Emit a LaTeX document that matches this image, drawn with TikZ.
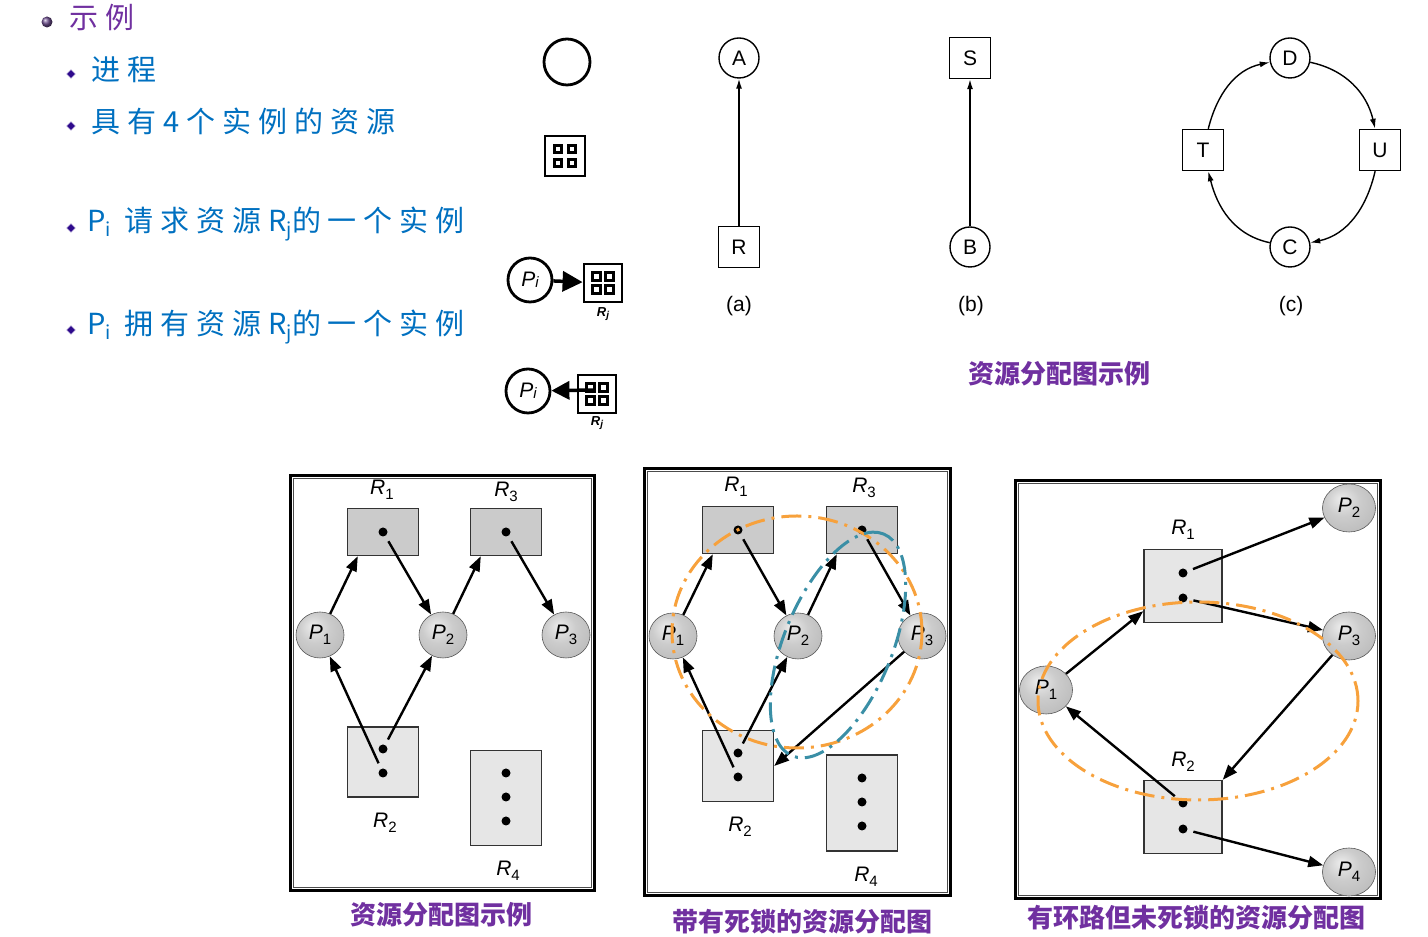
\documentclass[tikz,border=0pt]{standalone}
\usepackage{fontspec}
\usetikzlibrary{arrows.meta,positioning,calc,shapes.geometric}

\newfontfamily\cjk{Noto Sans CJK SC}
\newfontfamily\cjkhand[LetterSpace=24]{Noto Sans CJK SC}
\newfontfamily\helv{Liberation Sans}

\definecolor{titlepurple}{HTML}{7030A0}
\definecolor{itemblue}{HTML}{0070C0}
\definecolor{bulletblue}{HTML}{2E0A8C}
\definecolor{bulletpurple}{HTML}{6B4C8C}
\definecolor{looporange}{HTML}{F7A13C}
\definecolor{loopteal}{HTML}{3A8FA6}
\definecolor{resdark}{HTML}{CBCBCB}
\definecolor{reslight}{HTML}{E6E6E6}

\pgfdeclareradialshading{sphshade}{\pgfpoint{-8bp}{10bp}}{%
  color(0bp)=(gray!15); color(16bp)=(gray!40); color(36bp)=(gray!55);
  color(50bp)=(gray!75); color(60bp)=(gray!90)}

\newcommand{\lbl}[2]{\textit{#1}\raisebox{-0.5ex}{\fontsize{15}{15}\selectfont #2}}
\newcommand{\psub}[2]{#1\raisebox{-0.35ex}{\fontsize{19}{19}\selectfont #2}}

\tikzset{
  item/.style={anchor=west, text=itemblue, font=\cjkhand\fontsize{29}{29}\selectfont},
  sym/.style={circle, draw, line width=2.8pt, minimum size=45pt, inner sep=0pt},
  symres/.style={draw, line width=2.8pt, minimum size=40pt, inner sep=0pt},
  cell/.style={draw, line width=3pt, fill=white, minimum size=7.5pt, inner sep=0pt},
  gproc/.style={circle, draw, line width=1.4pt, minimum size=40pt, inner sep=0pt},
  gres/.style={draw, line width=1.4pt, minimum size=41pt, inner sep=0pt},
  garr/.style={line width=1.4pt, -{Latex[length=10pt,width=6pt]}},
  sphere/.style={ellipse, draw=gray!70!black, line width=0.6pt, shade, shading=sphshade,
    minimum width=48pt, minimum height=46pt, inner sep=0pt},
  resbox/.style={draw=black!80, line width=1.4pt, fill=resdark, minimum width=71pt,
    minimum height=47pt, inner sep=0pt},
  dot/.style={circle, fill=black, minimum size=9pt, inner sep=0pt},
  parr/.style={line width=2.4pt, -{Triangle[length=15pt,width=11pt]}},
  panel/.style={draw, line width=2.8pt, inner sep=0pt},
  captxt/.style={text=titlepurple, font=\cjk\bfseries\fontsize{26}{26}\selectfont},
  oloop/.style={ellipse, draw=looporange, line width=3pt, inner sep=0pt,
    dash pattern=on 20pt off 7pt on 3pt off 7pt},
  tloop/.style={ellipse, draw=loopteal, line width=3pt, inner sep=0pt,
    dash pattern=on 20pt off 7pt on 3pt off 7pt}
}

\begin{document}
\begin{tikzpicture}[x=1pt,y=1pt]
    \tikzstyle{every node}=[font=\helv\fontsize{21}{21}\selectfont]
    \useasboundingbox (0,0) rectangle (1428,937);

    %%% Bullets
    \node[circle, ball color=bulletpurple, minimum size=11pt, inner sep=0pt] (b0) at (47,915) {};
    \node[anchor=west, text=titlepurple, font=\cjkhand\fontsize{29}{29}\selectfont] (t0) at (66,919) {示例};
    \node[diamond, fill=bulletblue, draw=bulletblue!30, minimum size=9pt, inner sep=0pt] (b1) at (71,863) {};
    \node[diamond, fill=bulletblue, draw=bulletblue!30, minimum size=9pt, inner sep=0pt] (b2) at (71,811) {};
    \node[diamond, fill=bulletblue, draw=bulletblue!30, minimum size=9pt, inner sep=0pt] (b3) at (71,709) {};
    \node[diamond, fill=bulletblue, draw=bulletblue!30, minimum size=9pt, inner sep=0pt] (b4) at (71,607) {};
    \node[item] (t1) at (88,867) {进程};
    \node[item] (t2) at (88,816) {具有4个实例的资源};
    \node[item] (t3) at (84,713) {\psub{P}{i} 请求资源\psub{R}{j}的一个实例};
    \node[item] (t4) at (84,610) {\psub{P}{i} 拥有资源\psub{R}{j}的一个实例};

    %%% Symbols
    \node[sym, minimum size=46pt] (proc) at (567,875) {};
    \node[symres] (res) at (565,781) {};
    \foreach \dx/\dy [count=\k] in {-7/7,7/7,-7/-7,7/-7}
        \node[cell] (res-c\k) at ($(res)+(\dx,\dy)$) {};

    \node[sym, minimum size=44pt] (pi1) at (530,657) {\textit{P\raisebox{-.1ex}{\fontsize{15}{15}\selectfont i}}};
    \node[symres, minimum size=38pt] (rq) at (603,654) {};
    \foreach \dx/\dy [count=\k] in {-6.5/6.5,6.5/6.5,-6.5/-6.5,6.5/-6.5}
        \node[cell] (rq-c\k) at ($(rq)+(\dx,\dy)$) {};
    \node[font=\helv\bfseries\itshape\fontsize{13}{13}\selectfont] (rqlab) at (603,623) {R\raisebox{-.3ex}{\fontsize{10}{10}\selectfont j}};
    \draw[line width=3.5pt, -{Triangle[length=20pt,width=20pt]}] (pi1) edge (rq);

    \node[sym, minimum size=44pt] (pi2) at (528,546) {\textit{P\raisebox{-.1ex}{\fontsize{15}{15}\selectfont i}}};
    \node[symres, minimum size=38pt] (as) at (597,543) {};
    \foreach \dx/\dy [count=\k] in {-6.5/6.5,6.5/6.5,-6.5/-6.5,6.5/-6.5}
        \node[cell] (as-c\k) at ($(as)+(\dx,\dy)$) {};
    \node[font=\helv\bfseries\itshape\fontsize{13}{13}\selectfont] (aslab) at (597,514) {R\raisebox{-.3ex}{\fontsize{10}{10}\selectfont j}};
    \draw[line width=3.5pt, -{Triangle[length=18pt,width=18pt]}] ([shift={(-2pt,4pt)}]as.center) -- (pi2);

    %%% (a) (b) (c)
    \node[gproc] (A) at (739,879) {A};
    \node[gres] (R) at (739,690) {R};
    \draw[garr] (R) edge (A);
    \node (la) at (739,631) {(a)};

    \node[gres] (S) at (970,879) {S};
    \node[gproc] (B) at (970,690) {B};
    \draw[garr] (B) edge (S);
    \node (lb) at (971,631) {(b)};

    \node[gproc] (D) at (1290,879) {D};
    \node[gres] (U) at (1380,787) {U};
    \node[gproc] (C) at (1290,690) {C};
    \node[gres] (T) at (1203,787) {T};
    \draw[garr] (D) to[out=-12,in=103] (U);
    \draw[garr] (U) to[out=-103,in=12] (C);
    \draw[garr] (C) to[out=168,in=-76] (T);
    \draw[garr] (T) to[out=76,in=192] (D);
    \node (lc) at (1291,631) {(c)};

    \node[captxt] (cap0) at (1059,563) {资源分配图示例};

    %%% Panel 1
    \node[panel, minimum width=304pt, minimum height=415pt] (f1) at (442.5,254) {};
    \draw[line width=0.8pt, black!70] ([shift={(4.5,4.5)}]f1.south west) rectangle ([shift={(-4.5,-4.5)}]f1.north east);

    \node[resbox] (r1a) at (383,405) {};
    \node[dot] (d1a) at (383,405) {};
    \node (l1a) at (382,447) {\lbl{R}{1}};
    \node[resbox] (r3a) at (506,405) {};
    \node[dot] (d3a) at (506,405) {};
    \node (l3a) at (506,445) {\lbl{R}{3}};
    \node[sphere] (p1a) at (320,302) {\lbl{P}{1}};
    \node[sphere] (p2a) at (443,302) {\lbl{P}{2}};
    \node[sphere] (p3a) at (566,302) {\lbl{P}{3}};
    \node[resbox, fill=reslight, minimum height=70pt] (r2a) at (383,175) {};
    \node[dot] (d2a1) at (383,188) {};
    \node[dot] (d2a2) at (383,164) {};
    \node (l2a) at (385,114) {\lbl{R}{2}};
    \node[resbox, fill=reslight, minimum height=95pt] (r4a) at (506,139) {};
    \node[dot] (d4a1) at (506,164) {};
    \node[dot] (d4a2) at (506,140) {};
    \node[dot] (d4a3) at (506,116) {};
    \node (l4a) at (508,66) {\lbl{R}{4}};

    \draw[parr] (p1a) edge ([xshift=11pt]r1a.south west);
    \draw[parr, shorten <=6pt] (d1a) edge (p2a);
    \draw[parr] (p2a) edge ([xshift=11pt]r3a.south west);
    \draw[parr, shorten <=6pt] (d3a) edge (p3a);
    \draw[parr, shorten <=6pt] (d2a1) edge (p2a);
    \draw[parr, shorten <=6pt] (d2a2) edge (p1a);

    \node[captxt] (cap1) at (441,22) {资源分配图示例};

    %%% Panel 2
    \node[panel, minimum width=306pt, minimum height=427pt] (f2) at (797.5,255) {};
    \draw[line width=0.8pt, black!70] ([shift={(4.5,4.5)}]f2.south west) rectangle ([shift={(-4.5,-4.5)}]f2.north east);

    \node[resbox] (r1b) at (738,407) {};
    \node[dot] (d1b) at (738,407) {};
    \node (l1b) at (736,450) {\lbl{R}{1}};
    \node[resbox] (r3b) at (862,407) {};
    \node[dot] (d3b) at (862,407) {};
    \node (l3b) at (864,449) {\lbl{R}{3}};
    \node[sphere] (p1b) at (673,301) {\lbl{P}{1}};
    \node[sphere] (p2b) at (798,301) {\lbl{P}{2}};
    \node[sphere] (p3b) at (922,301) {\lbl{P}{3}};
    \node[resbox, fill=reslight, minimum height=71pt] (r2b) at (738,171) {};
    \node[dot] (d2b1) at (738,184) {};
    \node[dot] (d2b2) at (738,160) {};
    \node (l2b) at (740,110) {\lbl{R}{2}};
    \node[resbox, fill=reslight, minimum height=96pt] (r4b) at (862,134) {};
    \node[dot] (d4b1) at (862,159) {};
    \node[dot] (d4b2) at (862,135) {};
    \node[dot] (d4b3) at (862,111) {};
    \node (l4b) at (866,60) {\lbl{R}{4}};

    \draw[parr] (p1b) edge ([xshift=11pt]r1b.south west);
    \draw[parr, shorten <=6pt] (d1b) edge (p2b);
    \draw[parr] (p2b) edge ([xshift=11pt]r3b.south west);
    \draw[parr, shorten <=6pt] (d3b) edge (p3b);
    \draw[parr, shorten <=6pt] (d2b1) edge (p2b);
    \draw[parr, shorten <=6pt] (d2b2) edge (p1b);
    \draw[parr] (p3b) edge (r2b.east);

    \node[oloop, minimum width=250pt, minimum height=232pt] (loop2o) at (797,305) {};
    \node[tloop, minimum width=240pt, minimum height=108pt, rotate=67.6] (loop2t) at (838,292) {};

    \node[captxt] (cap2) at (802,15) {带有死锁的资源分配图};

    %%% Panel 3
    \node[panel, minimum width=365pt, minimum height=418pt] (f3) at (1198,247.5) {};
    \draw[line width=0.8pt, black!70] ([shift={(4.5,4.5)}]f3.south west) rectangle ([shift={(-4.5,-4.5)}]f3.north east);

    \node[resbox, fill=reslight, minimum width=78pt, minimum height=73pt] (r1c) at (1183,351) {};
    \node[dot] (d1c1) at (1183,364) {};
    \node[dot] (d1c2) at (1183,339) {};
    \node (l1c) at (1183,407) {\lbl{R}{1}};
    \node[resbox, fill=reslight, minimum width=78pt, minimum height=73pt] (r2c) at (1183,120) {};
    \node[dot] (d2c1) at (1183,134) {};
    \node[dot] (d2c2) at (1183,108) {};
    \node (l2c) at (1183,175) {\lbl{R}{2}};
    \node[sphere, minimum width=53pt, minimum height=48pt] (p1c) at (1046,247) {\lbl{P}{1}};
    \node[sphere, minimum width=53pt, minimum height=48pt] (p2c) at (1349,429) {\lbl{P}{2}};
    \node[sphere, minimum width=53pt, minimum height=48pt] (p3c) at (1349,301) {\lbl{P}{3}};
    \node[sphere, minimum width=53pt, minimum height=48pt] (p4c) at (1349,65) {\lbl{P}{4}};

    \draw[parr, shorten <=6pt] (d1c1) edge (p2c);
    \draw[parr, shorten <=6pt] (d1c2) edge (p3c);
    \draw[parr] (p1c) edge ([yshift=12pt]r1c.south west);
    \draw[parr] (p3c) edge (r2c.north east);
    \draw[parr, shorten <=6pt] (d2c1) edge (p1c);
    \draw[parr, shorten <=6pt] (d2c2) edge (p4c);

    \node[oloop, minimum width=320pt, minimum height=198pt] (loop3o) at (1198,236) {};

    \node[captxt] (cap3) at (1196,19) {有环路但未死锁的资源分配图};
\end{tikzpicture}
\end{document}
